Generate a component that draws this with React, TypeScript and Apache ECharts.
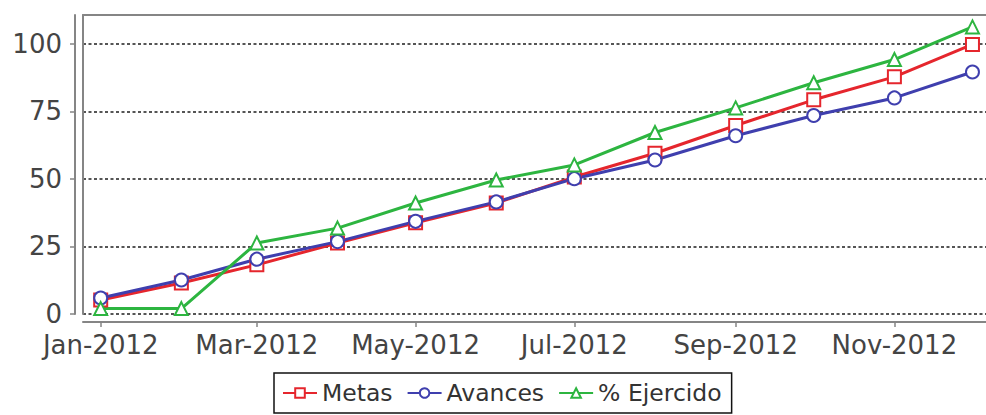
import React, { useEffect, useRef } from "react";
import * as echarts from "echarts";

const months = [
  "2012-01-01", "2012-02-01", "2012-03-01", "2012-04-01", "2012-05-01", "2012-06-01",
  "2012-07-01", "2012-08-01", "2012-09-01", "2012-10-01", "2012-11-01", "2012-12-01",
];
const metas = [5.2, 11.5, 18.2, 26.3, 33.8, 41.1, 50.7, 59.5, 69.8, 79.3, 87.8, 99.8];
const avances = [5.9, 12.6, 20.3, 26.8, 34.3, 41.5, 50.1, 57, 66, 73.5, 80, 89.6];
const ejercido = [2, 2, 26.3, 31.8, 41.1, 49.6, 55.2, 67.2, 76.3, 85.6, 94.2, 106.3];
const xTickDates = ["2012-01-01", "2012-03-01", "2012-05-01", "2012-07-01", "2012-09-01", "2012-11-01"];
const yTicks = [0, 25, 50, 75, 100];
const monthNames = ["Jan", "Feb", "Mar", "Apr", "May", "Jun", "Jul", "Aug", "Sep", "Oct", "Nov", "Dec"];
const xMin = "2011-12-25 04:48";
const xMax = "2012-12-06 04:48";
const yMax = 110.7;

const parseLocal = (s: string) => {
  const [d, t] = s.split(" ");
  const [y, m, day] = d.split("-").map(Number);
  const [hh, mm] = (t || "0:0").split(":").map(Number);
  return new Date(y, m - 1, day, hh, mm).getTime();
};

const FONT = "DejaVu Sans";
const AXIS_COLOR = "#858585";
const LABEL_COLOR = "#444";

export default function App() {
  const ref = useRef<HTMLDivElement>(null);
  useEffect(() => {
    if (!ref.current) return;
    const chart = echarts.init(ref.current, undefined, { renderer: "svg" });
    const mk = (name: string, vals: number[], color: string, symbol: string) => ({
      name,
      type: "line",
      data: months.map((m, i) => [parseLocal(m), vals[i]]),
      symbol,
      symbolSize: 13,
      showSymbol: true,
      lineStyle: { color, width: 3 },
      itemStyle: { color, borderColor: color, borderWidth: 2 },
      xAxisIndex: 0,
      yAxisIndex: 0,
    });
    const xMinV = parseLocal(xMin);
    const xMaxV = parseLocal(xMax);
    chart.setOption({
      animation: false,
      backgroundColor: "#ffffff",
      grid: { left: 83, top: 15, width: 906, bottom: 101, containLabel: false, show: false },
      legend: {
        left: 274,
        top: 373,
        padding: [7, 10, 7, 8],
        itemWidth: 34,
        itemHeight: 12,
        itemGap: 14,
        borderColor: "#111",
        borderWidth: 1.5,
        textStyle: { fontFamily: FONT, fontSize: 23.5, color: "#333", lineHeight: 26 },
        data: ["Metas", "Avances", "% Ejercido"],
      },
      xAxis: [
        {
          type: "value",
          min: xMinV,
          max: xMaxV,
          position: "bottom",
          offset: 8,
          axisLine: { show: true, onZero: false, lineStyle: { color: AXIS_COLOR, width: 2 } },
          axisTick: {
            show: true,
            length: 5,
            lineStyle: { color: AXIS_COLOR, width: 1.5 },
            customValues: xTickDates.map(parseLocal),
          },
          axisLabel: {
            customValues: xTickDates.map(parseLocal),
            fontFamily: FONT,
            fontSize: 26,
            lineHeight: 26,
            color: LABEL_COLOR,
            margin: 10,
            formatter: (v: number) => {
              const d = new Date(v);
              return `${monthNames[d.getMonth()]}-${d.getFullYear()}`;
            },
          },
          splitLine: { show: false },
        },
        {
          type: "value",
          min: xMinV,
          max: xMaxV,
          position: "top",
          axisLine: { show: true, onZero: false, lineStyle: { color: AXIS_COLOR, width: 2 } },
          axisTick: { show: false },
          axisLabel: { show: false },
          splitLine: { show: false },
        },
      ],
      yAxis: [
        {
          type: "value",
          min: 0,
          max: yMax,
          position: "left",
          offset: 8,
          axisLine: { show: true, onZero: false, lineStyle: { color: AXIS_COLOR, width: 2 } },
          axisTick: {
            show: true,
            length: 5,
            lineStyle: { color: AXIS_COLOR, width: 1.5 },
            customValues: yTicks,
          },
          axisLabel: {
            customValues: yTicks,
            fontFamily: FONT,
            fontSize: 26,
            color: LABEL_COLOR,
            margin: 13,
          },
          splitLine: {
            show: true,
            lineStyle: { color: "#555", width: 2, type: [3, 2.5] },
          },
        },
        {
          type: "value",
          min: 0,
          max: yMax,
          position: "left",
          offset: 0,
          axisLine: { show: true, onZero: false, lineStyle: { color: AXIS_COLOR, width: 2 } },
          axisTick: { show: false },
          axisLabel: { show: false },
          splitLine: { show: false },
        },
      ],
      series: [
        mk("Metas", metas, "#e5262d", "emptyRect"),
        mk("Avances", avances, "#3f3fae", "emptyCircle"),
        mk("% Ejercido", ejercido, "#2db540", "emptyTriangle"),
      ],
    });
    return () => chart.dispose();
  }, []);
  return (
    <div
      ref={ref}
      style={{ position: "absolute", left: 0, top: 0, width: 986, height: 415 }}
    />
  );
}
